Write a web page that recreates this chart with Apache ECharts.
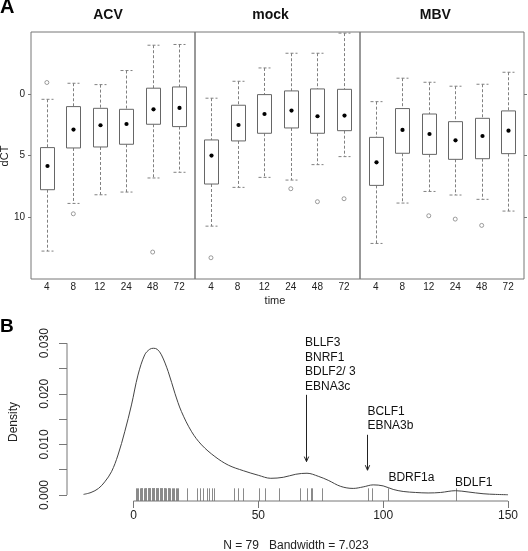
<!DOCTYPE html>
<html><head><meta charset="utf-8">
<script src="https://cdn.jsdelivr.net/npm/echarts@6/dist/echarts.min.js"></script>
<style>html,body{margin:0;padding:0;background:#fff}#c{width:528px;height:551px}</style>
</head><body><div id="c"></div>
<script>
// ---------- Panel A data ----------
const timeLabels = ['4','8','12','24','48','72'];
const panelNames = ['ACV','mock','MBV'];
// [lower whisker, Q1, median, Q3, upper whisker] (dCT)
const acvStats = [
  [0.45, 4.36, 5.85, 7.77, 12.74],
  [-0.85, 1.04, 2.90, 4.39, 8.88],
  [-0.74, 1.18, 2.55, 4.31, 8.18],
  [-1.88, 1.26, 2.45, 4.09, 7.96],
  [-3.93, -0.45, 1.26, 2.47, 6.82],
  [-3.99, -0.55, 1.15, 2.66, 6.36]
];
const mockStats = [
  [0.36, 3.74, 5.01, 7.31, 10.72],
  [-1.01, 0.93, 2.53, 3.82, 7.58],
  [-2.09, 0.07, 1.64, 3.20, 6.77],
  [-3.28, -0.23, 1.36, 2.77, 6.99],
  [-3.28, -0.39, 1.82, 3.20, 5.74],
  [-4.91, -0.36, 1.77, 2.99, 5.09]
];
const mbvStats = [
  [0.64, 3.53, 5.55, 7.42, 12.12],
  [-1.26, 1.20, 2.93, 4.82, 8.85],
  [-0.93, 1.64, 3.26, 4.91, 7.91],
  [-0.61, 2.26, 3.77, 5.31, 8.20],
  [-0.77, 1.99, 3.42, 5.26, 8.55],
  [-1.74, 1.39, 2.99, 4.85, 9.50]
];
// outliers: [time position (1..6), dCT]
const acvOutliers = [[1, -0.91], [2, 9.72], [5, 12.82]];
const mockOutliers = [[1, 13.28], [4, 7.69], [5, 8.74], [6, 8.50]];
const mbvOutliers = [[3, 9.88], [4, 10.15], [5, 10.66]];
const dctTicks = [0, 5, 10];

// ---------- Panel B data ----------
const densityX = [-20, -17, -14, -11.5, -8.8, -6.2, -3.5, -0.8, 1.8, 4.5, 6.5, 8, 9.5, 11.2, 13.9, 16.6, 19.2, 23.3, 27.3, 32.6, 38, 44, 50, 55, 60, 65, 69.5, 74, 78, 83, 88, 92, 96, 100, 104, 108, 113, 118, 123, 129, 134, 140, 145, 150];
const densityY = [0.00012, 0.0005, 0.0013, 0.0026, 0.0046, 0.0079, 0.0125, 0.0178, 0.0237, 0.0277, 0.0288, 0.0290, 0.0288, 0.0277, 0.0244, 0.0201, 0.0165, 0.0125, 0.0099, 0.0076, 0.0059, 0.0048, 0.0039, 0.0033, 0.0035, 0.0041, 0.0043, 0.0037, 0.0029, 0.0017, 0.0013, 0.0016, 0.0020, 0.0018, 0.0011, 0.0007, 0.0005, 0.0004, 0.0005, 0.00085, 0.0006, 0.00025, 0.00012, 0.00005];
const rugValues = [
  0.92, 1.32, 1.72, 2.53, 2.93, 3.33, 4.13, 4.53, 4.93, 5.73, 6.13, 6.54, 7.34, 7.74, 8.14, 8.94, 9.34, 9.74,
  10.55, 10.95, 11.35, 12.15, 12.55, 12.95, 13.75, 14.15, 14.55, 15.36, 15.76, 16.16, 16.96, 17.36, 17.76,
  4.5, 5.7, 6.1, 6.5, 7.3, 7.7, 8.1, 8.9, 9.3, 9.7, 10.5, 10.9, 3.3, 2.9, 11.3, 12.2, 12.6, 13.8, 14.2, 7.4, 8.2, 5.0, 6.2,
  21.6, 25.5, 26.6, 27.9, 29.3, 30.4, 31.4, 32.4, 40.2, 42.0, 44.0, 50.1, 52.5, 58.4, 66.5, 69.4, 71.0, 71.6, 75.5, 94.1, 95.6, 102.1, 129.1];
const xTicksB = [0, 50, 100, 150];
const yTicksB = [0, 0.005, 0.010, 0.015, 0.020, 0.025, 0.030];
const yLabelsB = [0, 0.010, 0.020, 0.030];
const annotTexts = ['BLLF3\nBNRF1\nBDLF2/ 3\nEBNA3c', 'BCLF1\nEBNA3b', 'BDRF1a', 'BDLF1'];
const annotX = [68.7, 93.7, 102.1, 128.8];
const annotY = [0.02575, 0.01506, 0.00342, 0.00251];
const arrowX = [69.1, 93.7];
const arrowFrom = [0.0198, 0.0119];
const arrowTo = [0.0066, 0.0049];
const sampleN = 79;
const bandwidth = 7.023;

// ---------- chart ----------
const FONT = '"Liberation Sans", Arial, Helvetica, sans-serif';
const chart = echarts.init(document.getElementById('c'), null, {renderer: 'canvas'});

const panelGrids = [
  {left: 31, top: 32, width: 164, height: 247},
  {left: 195, top: 32, width: 165, height: 247},
  {left: 360, top: 32, width: 164, height: 247}
];
const grids = panelGrids.map(g => Object.assign({show: true, borderColor: '#777', borderWidth: 1, backgroundColor: 'transparent'}, g));
const yMinB = -0.001186, yMaxB = 0.03010;
const xMinB = -26.62, xMaxB = 156.8;
grids.push({left: 67, right: 3, top: 342.7, bottom: 50});

const xAxes = [0,1,2].map(i => ({
  type: 'value', gridIndex: i, min: 0.4, max: 6.6,
  axisLine: {show: false, onZero: false}, splitLine: {show: false},
  axisTick: {show: false},
  axisLabel: {customValues: [1,2,3,4,5,6], formatter: v => timeLabels[Math.round(v) - 1],
    fontSize: 10, color: '#222', margin: 3, fontFamily: FONT}
}));
xAxes.push({
  type: 'value', gridIndex: 3, min: xMinB, max: xMaxB,
  axisLine: {show: false, onZero: false}, splitLine: {show: false},
  axisTick: {show: true, customValues: xTicksB, length: 7, lineStyle: {color: '#777'}},
  axisLabel: {customValues: xTicksB, fontSize: 12, color: '#222', margin: 9, fontFamily: FONT}
});

const yAxes = [0,1,2].map(i => ({
  type: 'value', gridIndex: i, min: -5, max: 15, inverse: true,
  position: i === 2 ? 'right' : 'left',
  axisLine: {show: false, onZero: false}, splitLine: {show: false},
  axisTick: {show: i !== 1, customValues: dctTicks, length: 3, lineStyle: {color: '#777'}},
  axisLabel: {show: i === 0, customValues: dctTicks, fontSize: 10, color: '#222', margin: 6, fontFamily: FONT}
}));
yAxes.push({
  type: 'value', gridIndex: 3, min: yMinB, max: yMaxB,
  axisLine: {show: false, onZero: false}, splitLine: {show: false},
  axisTick: {show: true, customValues: yTicksB, length: 8, lineStyle: {color: '#777'}},
  axisLabel: {customValues: yLabelsB, formatter: v => v.toFixed(3), rotate: 90,
    fontSize: 12, color: '#222', margin: 16, fontFamily: FONT}
});

function boxRender(params, api) {
  const x = api.value(0);
  const lo = api.coord([x, api.value(1)]);
  const q1 = api.coord([x, api.value(2)]);
  const md = api.coord([x, api.value(3)]);
  const q3 = api.coord([x, api.value(4)]);
  const hi = api.coord([x, api.value(5)]);
  const cx = Math.round(lo[0]) + 0.5;
  const bw = 14, cw = 12;
  const dash = {stroke: '#808080', lineWidth: 1, lineDash: [3, 2]};
  const yTop = Math.min(q1[1], q3[1]), yBot = Math.max(q1[1], q3[1]);
  return {type: 'group', children: [
    {type: 'line', shape: {x1: cx, y1: lo[1], x2: cx, y2: q1[1]}, style: dash},
    {type: 'line', shape: {x1: cx, y1: q3[1], x2: cx, y2: hi[1]}, style: dash},
    {type: 'line', shape: {x1: cx - cw/2, y1: lo[1], x2: cx + cw/2, y2: lo[1]}, style: dash},
    {type: 'line', shape: {x1: cx - cw/2, y1: hi[1], x2: cx + cw/2, y2: hi[1]}, style: dash},
    {type: 'rect', shape: {x: cx - bw/2, y: yTop, width: bw, height: yBot - yTop},
      style: {fill: '#fff', stroke: '#666', lineWidth: 1}},
    {type: 'circle', shape: {cx: cx, cy: md[1], r: 2.1}, style: {fill: '#000'}}
  ]};
}

const series = [];
[acvStats, mockStats, mbvStats].forEach((stats, i) => {
  series.push({
    type: 'custom', xAxisIndex: i, yAxisIndex: i, renderItem: boxRender,
    data: stats.map((s, k) => [k + 1].concat(s)), silent: true
  });
});
[acvOutliers, mockOutliers, mbvOutliers].forEach((o, i) => {
  series.push({
    type: 'scatter', xAxisIndex: i, yAxisIndex: i, data: o, symbol: 'circle', symbolSize: 4,
    itemStyle: {color: '#fff', borderColor: '#666', borderWidth: 0.8}, silent: true
  });
});

// density panel: axis lines spanning only the data range, like R's axes
series.push({type: 'line', xAxisIndex: 3, yAxisIndex: 3, data: [[xTicksB[0], yMinB], [xTicksB[xTicksB.length-1], yMinB]],
  symbol: 'none', clip: false, lineStyle: {color: '#777', width: 1}, silent: true});
series.push({type: 'line', xAxisIndex: 3, yAxisIndex: 3, data: [[xMinB, yTicksB[0]], [xMinB, yTicksB[yTicksB.length-1]]],
  symbol: 'none', clip: false, lineStyle: {color: '#777', width: 1}, silent: true});
// rug
const rugTop = 0.00132;
series.push({type: 'custom', xAxisIndex: 3, yAxisIndex: 3, data: rugValues.map(v => [v]), silent: true,
  renderItem: (params, api) => {
    const v = api.value(0);
    const b = api.coord([v, yMinB]);
    const t = api.coord([v, rugTop]);
    const x = Math.round(b[0]) + 0.5;
    return {type: 'line', shape: {x1: x, y1: b[1], x2: x, y2: t[1]}, style: {stroke: '#8a8a8a', lineWidth: 1}};
  }});
// density curve
series.push({type: 'line', xAxisIndex: 3, yAxisIndex: 3, data: densityX.map((x, i) => [x, densityY[i]]),
  symbol: 'none', smooth: 0.35, lineStyle: {color: '#444', width: 1}, silent: true});
// arrows
series.push({type: 'custom', xAxisIndex: 3, yAxisIndex: 3, data: arrowX.map((x, i) => [x, arrowFrom[i], arrowTo[i]]),
  silent: true, clip: false,
  renderItem: (params, api) => {
    const a = api.coord([api.value(0), api.value(1)]);
    const b = api.coord([api.value(0), api.value(2)]);
    const x = Math.round(a[0]) + 0.5;
    const st = {stroke: '#222', lineWidth: 1, fill: null};
    return {type: 'group', children: [
      {type: 'line', shape: {x1: x, y1: a[1], x2: x, y2: b[1]}, style: st},
      {type: 'polyline', shape: {points: [[x - 2.2, b[1] - 5], [x, b[1]], [x + 2.2, b[1] - 5]]}, style: st}
    ]};
  }});
// annotation texts
series.push({type: 'custom', xAxisIndex: 3, yAxisIndex: 3, data: annotX.map((x, i) => [x, annotY[i], i]),
  silent: true, clip: false,
  renderItem: (params, api) => {
    const p = api.coord([api.value(0), api.value(1)]);
    return {type: 'text', x: p[0], y: p[1], style: {text: annotTexts[api.value(2)], fill: '#111',
      font: '12px ' + FONT, textAlign: 'left', textVerticalAlign: 'middle', lineHeight: 14.7}};
  }});

const titleCenters = [108, 270.5, 435.3];
const graphic = [
  {type: 'text', left: 0, top: -3, style: {text: 'A', font: 'bold 20px ' + FONT, fill: '#000'}},
  {type: 'text', left: 0, top: 317, style: {text: 'B', font: 'bold 19px ' + FONT, fill: '#000'}},
  {type: 'text', x: 275, y: 301, style: {text: 'time', font: '11px ' + FONT, fill: '#222', textAlign: 'center', textVerticalAlign: 'middle'}},
  {type: 'text', x: 5, y: 156, rotation: Math.PI / 2, style: {text: 'dCT', font: '11px ' + FONT, fill: '#222', textAlign: 'center', textVerticalAlign: 'middle'}},
  {type: 'text', x: 14, y: 422, rotation: Math.PI / 2, style: {text: 'Density', font: '12px ' + FONT, fill: '#222', textAlign: 'center', textVerticalAlign: 'middle'}},
  {type: 'text', x: 296, y: 546, style: {text: 'N = ' + sampleN + '   Bandwidth = ' + bandwidth.toFixed(3), font: '12px ' + FONT, fill: '#222', textAlign: 'center', textVerticalAlign: 'middle'}}
];
panelNames.forEach((n, i) => graphic.push({type: 'text', x: titleCenters[i], y: 15.5,
  style: {text: n, font: 'bold 14px ' + FONT, fill: '#111', textAlign: 'center', textVerticalAlign: 'middle'}}));

chart.setOption({
  animation: false,
  backgroundColor: '#fff',
  grid: grids, xAxis: xAxes, yAxis: yAxes, series: series, graphic: graphic
});
</script></body></html>
